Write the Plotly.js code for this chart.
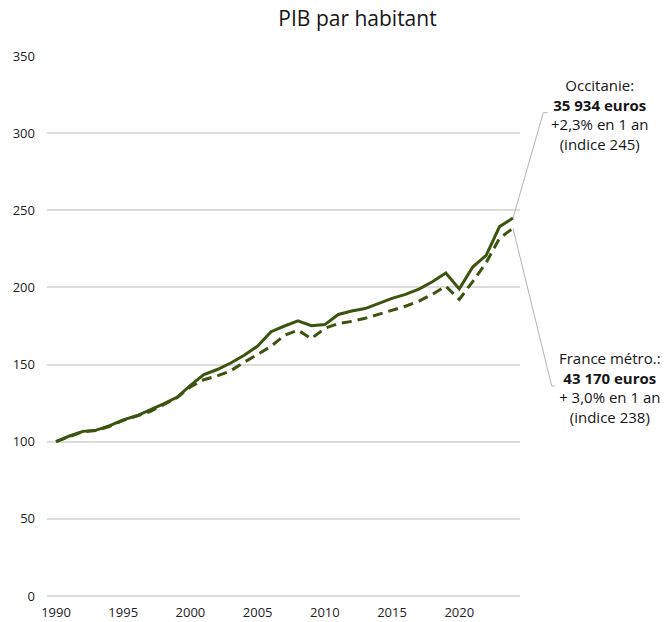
<!DOCTYPE html>
<html>
<head>
<meta charset="utf-8">
<script src="https://cdn.plot.ly/plotly-3.0.1.min.js"></script>
<style>html,body{margin:0;padding:0;background:#fff;}#chart{width:667px;height:622px;}</style>
</head>
<body>
<div id="chart"></div>
<script>
const years = [1990,1991,1992,1993,1994,1995,1996,1997,1998,1999,2000,2001,2002,2003,2004,2005,2006,2007,2008,2009,2010,2011,2012,2013,2014,2015,2016,2017,2018,2019,2020,2021,2022,2023,2024];
const occitanie = [100,103.7,106.7,107.5,110.4,114.2,116.8,120.5,124.5,128.8,136.5,143.5,146.8,151,156,162,171.3,175,178.4,175.2,175.9,182.5,184.7,186.3,189.6,192.9,195.5,198.9,203.7,209.3,199,213.2,220.8,239.4,245];
const france = [100,103.5,106.5,107.3,110,113.8,116.5,119.5,124,128.5,135.5,140.2,142.6,146,151.5,156.4,161.8,169,172.3,166.8,173.5,176.6,178,180,182.5,185.5,187.8,191.2,195.5,200.8,192.2,203.8,216,232,238.3];
const yTicks = [0,50,100,150,200,250,300,350];
const xTicks = [1990,1995,2000,2005,2010,2015,2020];
const labelOcc = 'Occitanie:<br><b>35 934 euros</b><br>+2,3% en 1 an<br>(indice 245)';
const labelFr = 'France métro.:<br><b>43 170 euros</b><br>+ 3,0% en 1 an<br>(indice 238)';

const xRange = [1989.33, 2024.52];
const yRange = [0, 350];
const px = v => (v - xRange[0]) / (xRange[1] - xRange[0]);
const py = v => (v - yRange[0]) / (yRange[1] - yRange[0]);
const lastX = years[years.length-1];
const lastOcc = occitanie[occitanie.length-1];
const lastFr = france[france.length-1];

const color = '#3d5410';
const font = 'Open Sans, sans-serif';

const traces = [
  {x: years, y: occitanie, mode: 'lines', line: {color: color, width: 3}, name: 'Occitanie', hoverinfo: 'skip'},
  {x: years, y: france, mode: 'lines', line: {color: color, width: 3, dash: '10px,6px'}, name: 'France métro.', hoverinfo: 'skip'}
];

const grey = '#b3b3b3';
const layout = {
  width: 667, height: 622,
  margin: {l: 47, r: 147, t: 56, b: 26},
  paper_bgcolor: '#fff', plot_bgcolor: '#fff',
  showlegend: false,
  font: {family: font, color: '#222', size: 13},
  title: {text: 'PIB par habitant', font: {family: font, size: 21, color: '#161616'}, x: 0.536, xref: 'container', y: 0.970, yref: 'container', xanchor: 'center', yanchor: 'middle'},
  xaxis: {range: xRange, tickvals: xTicks, ticktext: xTicks.map(String), showgrid: false, zeroline: false, showline: false, ticks: '', ticklabelstandoff: 7, tickfont: {size: 13, color: '#222'}},
  yaxis: {range: yRange, tickvals: yTicks, ticktext: yTicks.map(String), showgrid: true, gridcolor: '#dcdcdc', gridwidth: 2, zeroline: true, zerolinecolor: '#dcdcdc', zerolinewidth: 2, showline: false, ticks: '', ticklabelstandoff: 11, tickfont: {size: 13, color: '#222'}},
  shapes: [
    {type: 'path', xref: 'paper', yref: 'paper', path: `M ${px(lastX)} ${py(lastOcc)} L 1.0493 0.895 L 1.0586 0.895`, line: {color: grey, width: 1}},
    {type: 'path', xref: 'paper', yref: 'paper', path: `M ${px(lastX)} ${py(lastFr)} L 1.067 0.3889 L 1.074 0.3889`, line: {color: grey, width: 1}}
  ],
  annotations: [
    {text: labelOcc, xref: 'paper', yref: 'paper', x: 1.169, y: 0.8917, xanchor: 'center', yanchor: 'middle', showarrow: false, align: 'center', font: {family: font, size: 15, color: '#161616'}},
    {text: labelFr, xref: 'paper', yref: 'paper', x: 1.1903, y: 0.386, xanchor: 'center', yanchor: 'middle', showarrow: false, align: 'center', font: {family: font, size: 15, color: '#161616'}}
  ]
};

Plotly.newPlot('chart', traces, layout, {displayModeBar: false, staticPlot: true});
</script>
</body>
</html>
